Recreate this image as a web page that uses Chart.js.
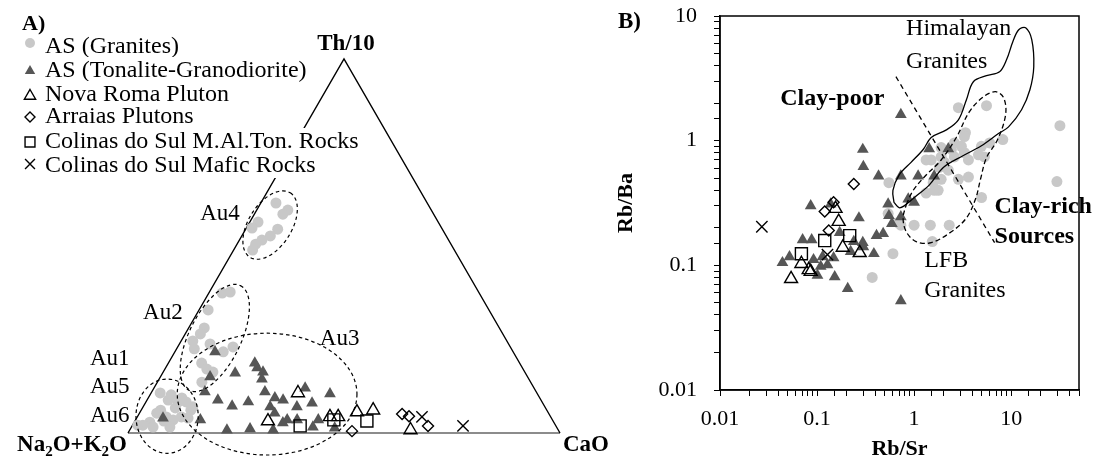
<!DOCTYPE html>
<html>
<head>
<meta charset="utf-8">
<script src="https://cdn.jsdelivr.net/npm/chart.js@4.4.1/dist/chart.umd.min.js"></script>
<style>
  html, body { margin: 0; padding: 0; background: #fff; }
  #wrap { position: relative; width: 1096px; height: 461px; overflow: hidden; background: #fff; }
  #tern { position: absolute; left: 0; top: 0; }
  #rbsr { position: absolute; left: 580px; top: 0; }
</style>
</head>
<body>
<div id="wrap">
  <canvas id="tern" width="640" height="461"></canvas>
  <canvas id="rbsr" width="516" height="461"></canvas>
</div>
<script>
const FONT = "'Liberation Serif', 'Times New Roman', serif";

// ---- Panel A: ternary compositions, % of [Na2O+K2O, CaO, Th/10] ----
const ternGranites = [
  [35.0, 3.5, 61.5], [33.2, 7.2, 59.6], [34.9, 6.6, 58.5], [41.7, 1.9, 56.4], [43.9, 1.3, 54.8],
  [38.1, 7.4, 54.5], [40.7, 6.6, 52.7], [43.2, 5.2, 51.6], [45.2, 4.3, 50.5], [46.7, 4.4, 48.9],
  [57.5, 4.8, 37.7], [59.5, 3.1, 37.4], [65.0, 2.1, 32.9], [68.3, 3.6, 28.1], [70.0, 3.5, 26.5],
  [72.7, 2.7, 24.6], [73.4, 4.1, 22.5], [69.1, 7.1, 23.8], [67.1, 11.2, 21.7], [64.2, 12.8, 23.0],
  [73.6, 7.7, 18.7], [73.2, 9.7, 17.1], [72.2, 11.5, 16.3], [76.1, 10.3, 13.6],
  [87.2, 2.1, 10.7], [86.3, 4.9, 8.8], [84.2, 7.5, 8.3], [82.4, 9.3, 8.3], [82.4, 11.5, 6.1],
  [85.7, 7.6, 6.7], [89.4, 4.5, 6.1], [89.0, 6.7, 4.3], [87.8, 8.7, 3.5], [85.5, 10.2, 4.3],
  [93.5, 3.6, 2.9], [95.5, 2.4, 2.1], [93.4, 5.0, 1.6], [89.5, 8.9, 1.6], [84.1, 11.9, 4.0],
  [81.5, 11.5, 7.0], [90.7, 4.0, 5.3], [83.2, 7.8, 9.4], [84.9, 4.9, 10.2], [90.1, 6.7, 3.2],
  [96.7, 1.2, 2.1]
];
const ternTonalite = [
  [69.0, 9.3, 21.7], [61.3, 20.0, 18.7], [61.4, 21.2, 17.4], [60.6, 23.1, 16.3], [67.2, 16.8, 16.0],
  [61.8, 23.8, 14.4], [73.5, 11.5, 15.0], [76.7, 12.3, 11.0], [53.0, 35.0, 12.0], [62.8, 26.2, 11.0],
  [48.0, 41.5, 10.5], [74.8, 16.4, 8.8], [72.3, 20.5, 7.2], [68.0, 23.7, 8.3], [61.3, 29.3, 9.4],
  [59.7, 31.5, 8.8], [63.6, 29.4, 7.0], [57.4, 35.6, 7.0], [53.4, 38.6, 8.0], [63.4, 31.3, 5.3],
  [61.4, 35.1, 3.5], [54.2, 42.3, 3.5], [81.5, 15.0, 3.5], [59.1, 37.4, 3.5], [76.7, 22.5, 0.8],
  [71.2, 27.7, 1.1], [66.0, 33.2, 0.8], [56.4, 42.0, 1.6], [51.5, 47.2, 1.3], [89.9, 6.1, 4.0],
  [62.8, 34.5, 2.7]
];
const ternNovaRoma = [
  [55.3, 34.0, 10.7], [66.0, 30.8, 3.2], [51.1, 44.6, 4.3], [49.2, 46.5, 4.3],
  [44.2, 50.2, 5.6], [40.2, 53.7, 6.1], [34.2, 65.0, 0.8]
];
const ternArraias = [[47.9, 51.6, 0.5], [34.0, 60.9, 5.1], [32.7, 62.8, 4.5], [29.6, 68.5, 1.9]];
const ternColinasMAT = [[59.2, 38.9, 1.9], [50.6, 45.9, 3.5], [43.1, 53.7, 3.2]];
const ternColinasMafic = [[29.8, 65.9, 4.3], [21.5, 76.6, 1.9]];

// ---- Panel B: [Rb/Sr, Rb/Ba] ----
const rbGranites = [
  [2.86, 1.84], [5.57, 1.91], [31.8, 1.32], [3.38, 1.16], [2.6, 0.96], [1.9, 0.88], [1.33, 0.70],
  [1.5, 0.70], [2.6, 0.74], [3.3, 0.80], [4.6, 0.77], [5.3, 0.74], [6.0, 0.96], [8.2, 1.02],
  [2.05, 0.67], [1.82, 0.61], [2.25, 0.58], [2.86, 0.49], [3.63, 0.51], [1.57, 0.46], [1.33, 0.38],
  [1.77, 0.40], [4.95, 0.35], [0.55, 0.46], [29.6, 0.47], [0.54, 0.26], [0.73, 0.21], [1.0, 0.21],
  [1.47, 0.21], [2.3, 0.21], [1.54, 0.155], [0.605, 0.124], [0.37, 0.080], [3.07, 0.90], [2.42, 0.85],
  [3.63, 0.70], [0.68, 0.22], [1.9, 0.74], [3.3, 1.08], [1.9, 0.49], [1.61, 0.40], [4.94, 0.90]
];
const rbTonalite = [
  [0.73, 1.62], [0.296, 0.85], [0.30, 0.62], [0.43, 0.52], [0.73, 0.52], [1.1, 0.52], [1.61, 0.52],
  [1.43, 0.86], [2.25, 0.86], [0.54, 0.31], [0.55, 0.25], [0.73, 0.245], [0.87, 0.34], [1.0, 0.32],
  [0.086, 0.30], [0.138, 0.31], [0.27, 0.24], [0.071, 0.16], [0.088, 0.16], [0.171, 0.183],
  [0.239, 0.155], [0.30, 0.141], [0.385, 0.124], [0.41, 0.173], [0.48, 0.18], [0.052, 0.117],
  [0.044, 0.105], [0.092, 0.111], [0.109, 0.098], [0.128, 0.101], [0.148, 0.115], [0.222, 0.129],
  [0.101, 0.083], [0.152, 0.081], [0.207, 0.065], [0.73, 0.052], [0.296, 0.152], [0.59, 0.216],
  [0.114, 0.117]
];
const rbNovaRoma = [
  [0.155, 0.285], [0.167, 0.224], [0.184, 0.139], [0.275, 0.126],
  [0.069, 0.103], [0.082, 0.092], [0.086, 0.089], [0.054, 0.078]
];
const rbArraias = [[0.239, 0.45], [0.148, 0.32], [0.12, 0.27], [0.132, 0.19]];
const rbColinasMAT = [[0.069, 0.124], [0.12, 0.158], [0.217, 0.173]];
const rbColinasMafic = [[0.027, 0.204], [0.128, 0.122]];

// Reference fields in Rb/Sr - Rb/Ba space
const himalayanField = [
  [0.62, 0.32], [0.605, 0.40], [0.70, 0.53], [0.93, 0.67], [1.24, 0.85], [1.5, 1.06], [2.15, 1.22],
  [2.86, 1.47], [3.46, 2.13], [4.08, 2.97], [5.57, 3.32], [7.6, 3.57], [8.98, 4.47], [10.4, 6.22],
  [11.97, 7.76], [14.1, 8.05], [16.3, 6.46], [17.1, 3.92], [15.6, 2.56], [12.8, 1.77], [9.4, 1.29],
  [7.4, 1.14], [4.94, 0.91], [3.22, 0.76], [2.0, 0.61], [1.43, 0.44], [1.05, 0.36], [0.79, 0.30],
  [0.70, 0.29], [0.62, 0.32]
];
const lfbField = [
  [0.83, 0.307], [0.98, 0.40], [1.33, 0.53], [1.9, 0.70], [2.72, 1.06], [3.72, 1.71], [5.19, 2.25],
  [6.9, 2.47], [8.36, 2.21], [8.77, 1.62], [7.25, 1.02], [5.57, 0.73], [4.83, 0.49], [4.29, 0.34],
  [3.46, 0.24], [2.42, 0.186], [1.5, 0.152], [1.05, 0.155], [0.83, 0.186], [0.77, 0.24], [0.83, 0.307]
];
const clayDivide = [[0.65, 3.26], [6.75, 0.152]];

const decadeTicks = [0.01, 0.1, 1, 10];

// ---- helpers ----
const H = Math.sqrt(3) / 2;
function ternToXY(p) {
  const s = p[0] + p[1] + p[2];
  const c = p[1] / s, t = p[2] / s;
  return { x: c + t / 2, y: t * H };
}
const asPoints = list => list.map(([x, y]) => ({ x, y }));

function drawMarker(ctx, style, x, y, r, fill, stroke, lw) {
  ctx.beginPath();
  if (style === 'circle') {
    ctx.arc(x, y, r, 0, Math.PI * 2);
  } else if (style === 'triangle') {
    ctx.moveTo(x, y - r);
    ctx.lineTo(x + r * 0.866, y + r / 2);
    ctx.lineTo(x - r * 0.866, y + r / 2);
    ctx.closePath();
  } else if (style === 'rectRot') {
    ctx.moveTo(x, y - r); ctx.lineTo(x + r, y); ctx.lineTo(x, y + r); ctx.lineTo(x - r, y);
    ctx.closePath();
  } else if (style === 'rect') {
    const h = r * Math.SQRT1_2;
    ctx.rect(x - h, y - h, 2 * h, 2 * h);
  } else if (style === 'crossRot') {
    const h = r * Math.SQRT1_2;
    ctx.moveTo(x - h, y - h); ctx.lineTo(x + h, y + h);
    ctx.moveTo(x + h, y - h); ctx.lineTo(x - h, y + h);
  }
  if (fill && style !== 'crossRot') { ctx.fillStyle = fill; ctx.fill(); }
  if (lw > 0) { ctx.strokeStyle = stroke; ctx.lineWidth = lw; ctx.stroke(); }
}

function richText(ctx, parts, x, y, align, size) {
  const main = `bold ${size}px ${FONT}`;
  const sub = `bold ${Math.round(size * 0.66)}px ${FONT}`;
  let w = 0;
  parts.forEach(p => { ctx.font = p.sub ? sub : main; w += ctx.measureText(p.t).width; });
  let cx = align === 'right' ? x - w : align === 'center' ? x - w / 2 : x;
  ctx.textAlign = 'left';
  parts.forEach(p => {
    ctx.font = p.sub ? sub : main;
    ctx.fillText(p.t, cx, y + (p.sub ? size * 0.2 : 0));
    cx += ctx.measureText(p.t).width;
  });
}

// Symbol sets shared by both panels
const sym = {
  granites: { label: 'AS (Granites)', pointStyle: 'circle', fill: '#c8c8c8', stroke: '#c8c8c8', lw: 0, r: 5.5, lr: 5 },
  tonalite: { label: 'AS (Tonalite-Granodiorite)', pointStyle: 'triangle', fill: '#565656', stroke: '#565656', lw: 0, r: 6.8, lr: 6 },
  novaRoma: { label: 'Nova Roma Pluton', pointStyle: 'triangle', fill: 'rgba(255,255,255,0)', stroke: '#000', lw: 1.4, r: 7.5, lr: 6.5 },
  arraias: { label: 'Arraias Plutons', pointStyle: 'rectRot', fill: 'rgba(255,255,255,0)', stroke: '#000', lw: 1.4, r: 5.5, lr: 5 },
  colinasMAT: { label: 'Colinas do Sul M.Al.Ton. Rocks', pointStyle: 'rect', fill: 'rgba(255,255,255,0)', stroke: '#000', lw: 1.4, r: 8.5, lr: 7 },
  colinasMafic: { label: 'Colinas do Sul Mafic Rocks', pointStyle: 'crossRot', fill: 'rgba(255,255,255,0)', stroke: '#000', lw: 1.4, r: 8, lr: 7 }
};
const legendOrder = ['granites', 'tonalite', 'novaRoma', 'arraias', 'colinasMAT', 'colinasMafic'];

function pointSet(key, points) {
  const s = sym[key];
  return {
    label: s.label, symKey: key, data: points,
    pointStyle: s.pointStyle, pointRadius: s.r, pointHoverRadius: s.r,
    pointBackgroundColor: s.fill, pointBorderColor: s.stroke, pointBorderWidth: s.lw,
    backgroundColor: s.fill, borderColor: s.stroke, showLine: false, clip: false
  };
}

// ---- Panel A overlays ----
const auFields = [
  { centre: [39.3, 5.1, 55.6], a: 0.088, b: 0.050, tilt: 58 },
  { centre: [67.2, 7.4, 25.4], a: 0.135, b: 0.060, tilt: 64 },
  { centre: [62.6, 27.0, 10.4], a: 0.208, b: 0.141, tilt: 0 },
  { centre: [88.7, 6.8, 4.5], a: 0.072, b: 0.086, tilt: 0 }
];
const auLabels = [
  { text: 'Au4', at: [0.167, 0.493] },
  { text: 'Au2', at: [0.035, 0.264] },
  { text: 'Au1', at: [-0.088, 0.157] },
  { text: 'Au5', at: [-0.088, 0.093] },
  { text: 'Au6', at: [-0.088, 0.025] },
  { text: 'Au3', at: [0.444, 0.204] }
];
const legendMarkY = [43, 71, 96, 117, 142, 164];
const legendBase = [53, 77, 101, 123, 148, 172];

const ternDecor = {
  id: 'ternDecor',
  afterDatasetsDraw(chart) {
    const { ctx, scales: { x, y } } = chart;
    const unit = x.getPixelForValue(1) - x.getPixelForValue(0);
    ctx.save();
    ctx.strokeStyle = '#000';
    ctx.lineWidth = 1.2;
    ctx.setLineDash([3.5, 3]);
    auFields.forEach(f => {
      const c = ternToXY(f.centre);
      ctx.beginPath();
      ctx.ellipse(x.getPixelForValue(c.x), y.getPixelForValue(c.y), f.a * unit, f.b * unit,
        -f.tilt * Math.PI / 180, 0, Math.PI * 2);
      ctx.stroke();
    });
    ctx.setLineDash([]);
    ctx.fillStyle = '#000';
    ctx.font = `23px ${FONT}`;
    ctx.textAlign = 'left';
    ctx.textBaseline = 'alphabetic';
    auLabels.forEach(l => ctx.fillText(l.text, x.getPixelForValue(l.at[0]), y.getPixelForValue(l.at[1])));

    const apexX = x.getPixelForValue(0.5), apexY = y.getPixelForValue(H);
    const blX = x.getPixelForValue(0), baseY = y.getPixelForValue(0), brX = x.getPixelForValue(1);
    richText(ctx, [{ t: 'Th/10' }], apexX + 2, apexY - 9, 'center', 23);
    richText(ctx, [{ t: 'Na' }, { t: '2', sub: true }, { t: 'O+K' }, { t: '2', sub: true }, { t: 'O' }],
      blX - 1, baseY + 18, 'right', 23);
    richText(ctx, [{ t: 'CaO' }], brX + 3, baseY + 18, 'left', 23);
    ctx.restore();
  },
  afterDraw(chart) {
    const { ctx } = chart;
    ctx.save();
    ctx.textBaseline = 'alphabetic';
    ctx.textAlign = 'left';
    ctx.font = `bold 22px ${FONT}`;
    ctx.fillStyle = '#000';
    ctx.fillText('A)', 22, 30);
    ctx.font = `24px ${FONT}`;
    legendOrder.forEach((key, i) => {
      const s = sym[key];
      const w = ctx.measureText(s.label).width;
      ctx.fillStyle = '#fff';
      ctx.fillRect(41, legendBase[i] - 20, w + 6, 26);
      drawMarker(ctx, s.pointStyle, 30, legendMarkY[i], s.lr, s.fill === 'rgba(255,255,255,0)' ? null : s.fill, s.stroke, s.lw || 0);
      ctx.fillStyle = '#000';
      ctx.fillText(s.label, 45, legendBase[i]);
    });
    ctx.restore();
  }
};

const ternSets = [
  pointSet('colinasMafic', ternColinasMafic.map(ternToXY)),
  pointSet('colinasMAT', ternColinasMAT.map(ternToXY)),
  pointSet('arraias', ternArraias.map(ternToXY)),
  pointSet('novaRoma', ternNovaRoma.map(ternToXY)),
  pointSet('tonalite', ternTonalite.map(ternToXY)),
  pointSet('granites', ternGranites.map(ternToXY)),
  { label: 'sides', data: [{ x: 0, y: 0 }, { x: 0.5, y: H }, { x: 1, y: 0 }], showLine: true,
    borderColor: '#000', borderWidth: 1.4, pointRadius: 0, fill: false, clip: false },
  { label: 'base', data: [{ x: 0, y: 0 }, { x: 1, y: 0 }], showLine: true,
    borderColor: '#8c8c8c', borderWidth: 2, pointRadius: 0, fill: false, clip: false }
];

new Chart(document.getElementById('tern'), {
  type: 'scatter',
  data: { datasets: ternSets },
  options: {
    responsive: false, animation: false, events: [],
    layout: { padding: { left: 128, right: 80, top: 59, bottom: 28 } },
    scales: {
      x: { type: 'linear', min: 0, max: 1, display: false },
      y: { type: 'linear', min: 0, max: H, display: false }
    },
    plugins: { legend: { display: false }, tooltip: { enabled: false } }
  },
  plugins: [ternDecor]
});

// ---- Panel B ----
const rbNotes = [
  { text: 'Himalayan', at: [0.826, 7.08], bold: false },
  { text: 'Granites', at: [0.826, 3.85], bold: false },
  { text: 'Clay-poor', at: [0.0418, 1.94], bold: true },
  { text: 'Clay-rich', at: [6.75, 0.264], bold: true },
  { text: 'Sources', at: [6.75, 0.152], bold: true },
  { text: 'LFB', at: [1.27, 0.0975], bold: false },
  { text: 'Granites', at: [1.27, 0.056], bold: false }
];

const rbDecor = {
  id: 'rbDecor',
  afterDraw(chart) {
    const { ctx, chartArea: a, scales: { x, y } } = chart;
    ctx.save();
    ctx.strokeStyle = '#000';
    ctx.lineWidth = 1.5;
    ctx.strokeRect(a.left, a.top, a.right - a.left, a.bottom - a.top);
    ctx.fillStyle = '#000';
    ctx.textAlign = 'left';
    ctx.textBaseline = 'alphabetic';
    rbNotes.forEach(n => {
      ctx.font = `${n.bold ? 'bold ' : ''}24px ${FONT}`;
      ctx.fillText(n.text, x.getPixelForValue(n.at[0]), y.getPixelForValue(n.at[1]));
    });
    ctx.font = `bold 23px ${FONT}`;
    ctx.fillText('B)', 38, 28);
    ctx.restore();
  }
};

const fieldLine = (label, pts, dash, tension) => ({
  label, data: asPoints(pts), showLine: true, pointRadius: 0, fill: false,
  borderColor: '#000', borderWidth: 1.3, borderDash: dash, tension
});

const rbSets = [
  fieldLine('clay divide', clayDivide, [5, 4], 0),
  fieldLine('Himalayan Granites', himalayanField, [], 0.35),
  fieldLine('LFB Granites', lfbField, [5, 3], 0.35),
  pointSet('colinasMafic', asPoints(rbColinasMafic)),
  pointSet('colinasMAT', asPoints(rbColinasMAT)),
  pointSet('arraias', asPoints(rbArraias)),
  pointSet('novaRoma', asPoints(rbNovaRoma)),
  pointSet('tonalite', asPoints(rbTonalite)),
  pointSet('granites', asPoints(rbGranites))
];
rbSets.forEach(d => { d.clip = 4; });

const tickLabel = v => decadeTicks.some(d => Math.abs(d - v) / d < 1e-6) ? String(v) : '';
const axisFont = { family: FONT, size: 22 };

new Chart(document.getElementById('rbsr'), {
  type: 'scatter',
  data: { datasets: rbSets },
  options: {
    responsive: false, animation: false, events: [],
    layout: { padding: { left: 0, right: 17, top: 16, bottom: 0 } },
    scales: {
      x: {
        type: 'logarithmic', min: 0.01, max: 50, position: 'bottom',
        afterFit: s => { s.height = 71; s.paddingLeft = 0; s.paddingRight = 0; },
        grid: { display: true, drawOnChartArea: false, drawTicks: true, tickLength: 6, color: '#000', lineWidth: 1 },
        border: { display: true, color: '#000', width: 1.5 },
        ticks: { autoSkip: false, maxRotation: 0, padding: 10, color: '#000', font: axisFont, callback: tickLabel },
        title: { display: true, text: 'Rb/Sr', color: '#000',
          font: { family: FONT, size: 22, weight: 'bold', lineHeight: 1 }, padding: { top: 0, bottom: 1 } }
      },
      y: {
        type: 'logarithmic', min: 0.01, max: 10, position: 'left',
        afterFit: s => { s.width = 140; s.paddingTop = 0; s.paddingBottom = 0; },
        grid: { display: true, drawOnChartArea: false, drawTicks: true, tickLength: 6, color: '#000', lineWidth: 1 },
        border: { display: true, color: '#000', width: 1.5 },
        ticks: { autoSkip: false, padding: 17, color: '#000', font: axisFont, callback: tickLabel },
        title: { display: true, text: 'Rb/Ba', color: '#000',
          font: { family: FONT, size: 22, weight: 'bold', lineHeight: 1 }, padding: { top: 35, bottom: 0 } }
      }
    },
    plugins: { legend: { display: false }, tooltip: { enabled: false } }
  },
  plugins: [rbDecor]
});
</script>
</body>
</html>
